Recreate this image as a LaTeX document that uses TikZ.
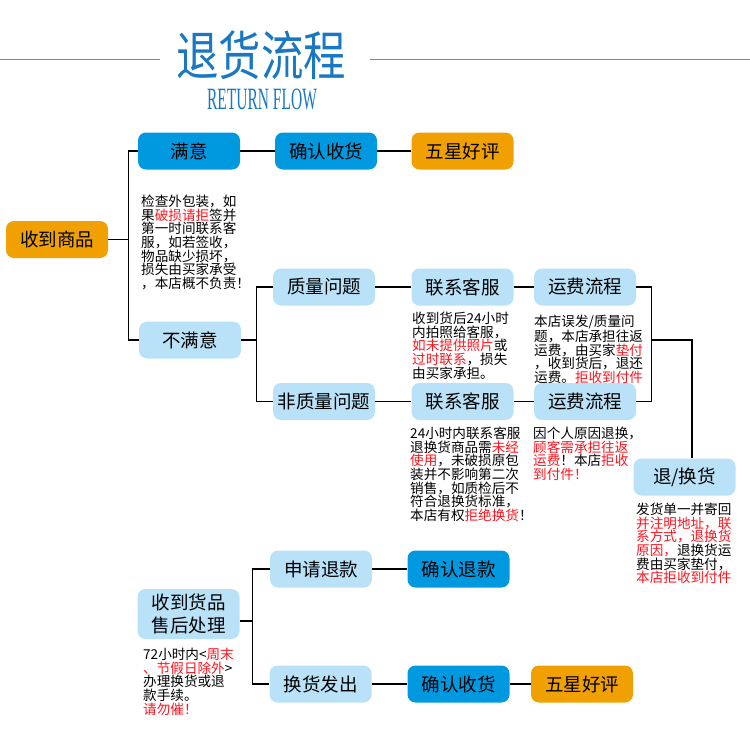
\documentclass[tikz,border=0pt]{standalone}
\usepackage{fontspec}
\setmainfont{Noto Sans CJK SC}
\newfontfamily\titlefont{Liberation Serif}
\usetikzlibrary{positioning}
\definecolor{azuloscuro}{RGB}{0,153,224}
\definecolor{azulclaro}{RGB}{185,226,248}
\definecolor{naranjo}{RGB}{240,160,0}
\definecolor{azultitulo}{RGB}{26,120,194}
\definecolor{lineatit}{RGB}{47,157,224}
\definecolor{rojo}{RGB}{255,20,30}
\newcommand{\rj}[1]{\textcolor{rojo}{#1}}

\begin{document}
\begin{tikzpicture}[x=1pt, y=-1pt,
    caja/.style={rounded corners=8pt, minimum width=102pt, minimum height=37pt, inner sep=0pt,
                 align=center, font=\fontsize{18.5}{23}\selectfont},
    oscuro/.style={caja, fill=azuloscuro},
    claro/.style={caja, fill=azulclaro},
    naranja/.style={caja, fill=naranjo},
    nota/.style={anchor=north west, inner sep=0pt, align=left, font=\fontsize{13.6}{13.6}\selectfont},
    linea/.style={line width=1.1pt, black}]

    \useasboundingbox (0,0) rectangle (750,756);

    % 1. Titulo con lineas laterales
    \draw[lineatit, line width=1pt] (0,59) -- (160,59);
    \draw[lineatit, line width=1pt] (370,59) -- (750,59);
    \node[text=azultitulo, font=\fontsize{53}{53}\selectfont] (titulo) at (261,55)
        {\scalebox{0.8}[1]{退货流程}};
    \node[text=azultitulo, font=\titlefont\fontsize{31}{31}\selectfont] (subtitulo) at (262,99)
        {\scalebox{0.5}[1]{RETURN FLOW}};

    % 2. Recepcion del producto
    \node[naranja] (recibir) at (57,239.5) {收到商品};
    \node[oscuro] (satisf) at (189,151) {满意};
    \node[claro] (insatisf) at (190,340) {不满意};
    \node[oscuro] (confirma1) at (326,151) {确认收货};
    \node[naranja] (estrella1) at (462.5,151) {五星好评};

    \node[nota] (nota1) at (141,195) {检查外包装，如\\果\rj{破损请拒}签并\\第一时间联系客\\服，如若签收，\\物品缺少损坏，\\损失由买家承受\\，本店概不负责！};

    \draw[linea] (recibir.east) -- ++(20,0) coordinate (r1);
    \draw[linea] (satisf.west) -| (r1) |- (insatisf.west);
    \draw[linea] (satisf) -- (confirma1) -- (estrella1);

    % 3. Ramas de calidad
    \node[claro] (calidad) at (324,287) {质量问题};
    \node[claro] (servicio1) at (462.5,287) {联系客服};
    \node[claro] (flete1) at (585,287) {运费流程};
    \node[claro] (nocalidad) at (324,401.5) {非质量问题};
    \node[claro] (servicio2) at (462.5,401.5) {联系客服};
    \node[claro] (flete2) at (585,401.5) {运费流程};
    \node[claro] (cambio) at (684.5,477) {退/换货};

    \node[nota] (nota2) at (412,312) {收到货后24小时\\内拍照给客服，\\\rj{如未提供照片}或\\\rj{过时联系}，损失\\由买家承担。};
    \node[nota] (nota3) at (534,315) {本店误发/质量问\\题，本店承担往返\\运费，由买家\rj{垫付}\\，收到货后，退还\\运费。\rj{拒收到付件}};
    \node[nota] (nota4) at (410,427) {24小时内联系客服\\退换货商品需\rj{未经}\\\rj{使用}，未破损原包\\装并不影响第二次\\销售，如质检后不\\符合退换货标准，\\本店有权\rj{拒绝换货}！};
    \node[nota] (nota5) at (533,427) {因个人原因退换，\\\rj{顾客需承担往返}\\\rj{运费}！本店\rj{拒收}\\\rj{到付件！}};
    \node[nota] (nota6) at (636,503) {发货单一并寄回\\\rj{并注明地址，联}\\\rj{系方式，退换货}\\\rj{原因，}退换货运\\费由买家垫付，\\\rj{本店拒收到付件}};

    \draw[linea] (insatisf.east) -- ++(15,0) coordinate (r2);
    \draw[linea] (calidad.west) -| (r2) |- (nocalidad.west);
    \draw[linea] (calidad) -- (servicio1) -- (flete1);
    \draw[linea] (nocalidad) -- (servicio2) -- (flete2);
    \draw[linea] (flete1.east) -- ++(15,0) coordinate (r3) |- (flete2.east);
    \path (r3) ++(0,53) coordinate (r4);
    \draw[linea] (r4) -| ([xshift=7.5pt]cambio.north);

    % 4. Postventa
    \node[claro, minimum height=50pt] (postventa) at (188.5,614) {收到货品\\售后处理};
    \node[claro] (solicita) at (321,569) {申请退款};
    \node[oscuro] (reembolso) at (458.5,569) {确认退款};
    \node[claro] (envio) at (320.5,684) {换货发出};
    \node[oscuro] (confirma2) at (458.5,684) {确认收货};
    \node[naranja] (estrella2) at (582,684) {五星好评};

    \node[nota] (nota7) at (143,648) {72小时内<\rj{周末}\\\rj{、节假日除外}>\\办理换货或退\\款手续。\\\rj{请勿催！}};

    \draw[linea] ([yshift=-7pt]postventa.east) -- ++(13,0) coordinate (r5);
    \draw[linea] (solicita.west) -| (r5) |- (envio.west);
    \draw[linea] (solicita) -- (reembolso);
    \draw[linea] (envio) -- (confirma2) -- (estrella2);

\end{tikzpicture}
\end{document}
